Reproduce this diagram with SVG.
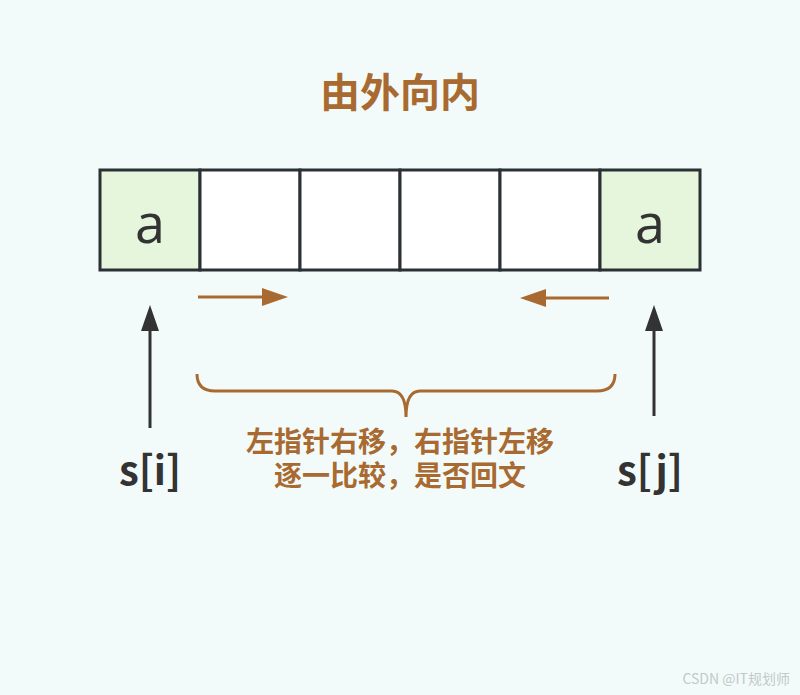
<svg xmlns="http://www.w3.org/2000/svg" width="800" height="695" viewBox="0 0 800 695">
<defs>
<style>
.cell{stroke:#2b3035;stroke-width:3;fill:#ffffff}
.hl{fill:#e6f6dc}
.brown{stroke:#a86a30;stroke-width:3;fill:none}
.dark{stroke:#333333;stroke-width:3;fill:none}
.t{font-family:"Noto Sans CJK SC","Noto Sans",sans-serif;font-weight:bold;text-anchor:middle}
.a{font-family:"Open Sans","Noto Sans",sans-serif;font-size:54px;fill:#333;text-anchor:middle}
</style>
</defs>
<rect width="800" height="695" fill="#f2fbf9"/>
<text class="t" x="400" y="107" font-size="40" fill="#a86a30">由外向内</text>
<g id="cells">
<g id="c0"><rect class="cell hl" x="100" y="170" width="100" height="100"/><text class="a" x="150" y="243">a</text></g>
<g id="c1"><rect class="cell" x="200" y="170" width="100" height="100"/></g>
<g id="c2"><rect class="cell" x="300" y="170" width="100" height="100"/></g>
<g id="c3"><rect class="cell" x="400" y="170" width="100" height="100"/></g>
<g id="c4"><rect class="cell" x="500" y="170" width="100" height="100"/></g>
<g id="c5"><rect class="cell hl" x="600" y="170" width="100" height="100"/><text class="a" x="650" y="243">a</text></g>
</g>
<g id="connectors">
<line class="brown" x1="198" y1="297" x2="266" y2="297"/>
<polygon points="288,297 262,288 262,306" fill="#a86a30"/>
<line class="brown" x1="609" y1="298" x2="542" y2="298"/>
<polygon points="520,298 546,289 546,307" fill="#a86a30"/>
<path class="brown" d="M197,374 Q197,391 215,391 L392,391 Q406,391 406,417 Q406,391 420,391 L597,391 Q615,391 615,374"/>
<line class="dark" x1="150" y1="428" x2="150" y2="328"/>
<polygon points="150,305 141,331 159,331" fill="#333"/>
<line class="dark" x1="654" y1="416" x2="654" y2="328"/>
<polygon points="654,305 645,331 663,331" fill="#333"/>
</g>
<g id="labels">
<text class="t" x="150" y="485" font-size="40" fill="#333">s[i]</text>
<text class="t" x="650" y="485" font-size="40" fill="#333">s[j]</text>
<text class="t" x="400" y="452" font-size="28" fill="#a86a30">左指针右移，右指针左移</text>
<text class="t" x="400" y="486" font-size="28" fill="#a86a30">逐一比较，是否回文</text>
<text x="790" y="684" font-family="'Noto Sans CJK SC',sans-serif" font-size="14" fill="#c4c8c8" text-anchor="end">CSDN @IT规划师</text>
</g>
</svg>
